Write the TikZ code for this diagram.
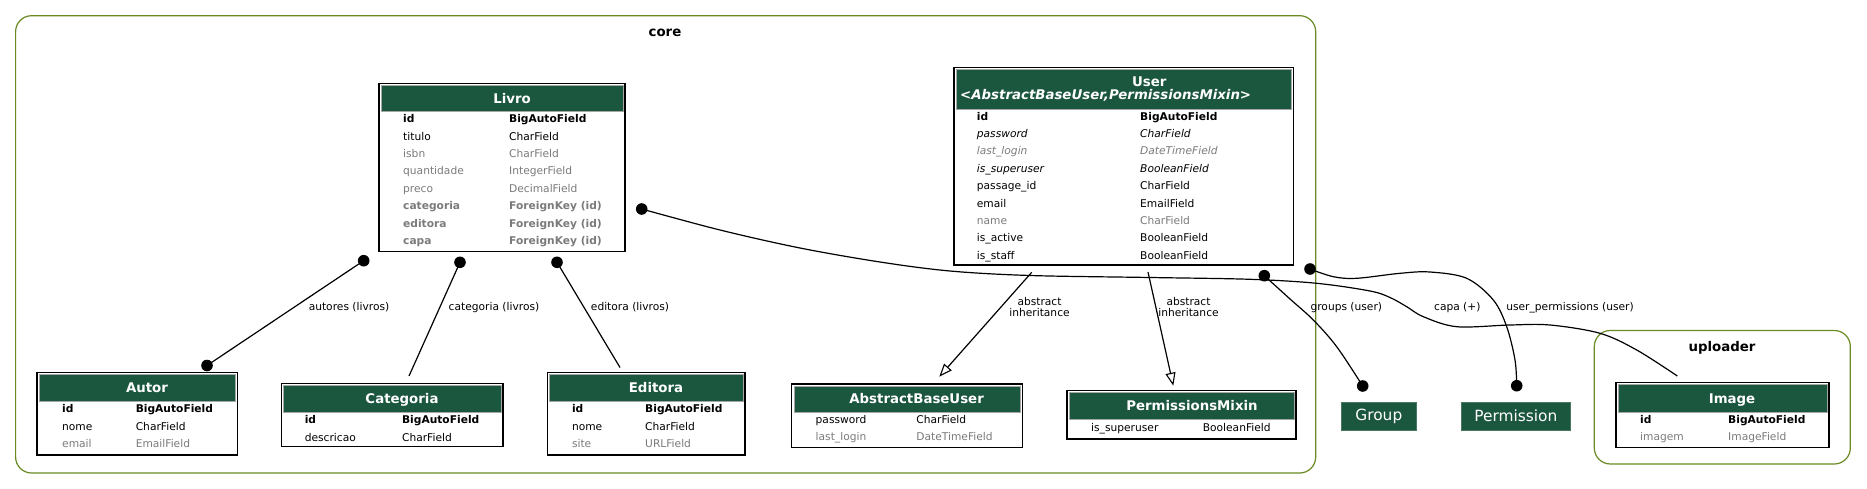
\documentclass[tikz,border=0pt]{standalone}
\usepackage{fontspec}
\setmainfont{DejaVu Sans}
\usetikzlibrary{arrows.meta}
\definecolor{hdr}{HTML}{1B563F}
\definecolor{olivec}{HTML}{698B22}
\definecolor{fgrey}{HTML}{7B7B7B}
\newcommand\mktable[5]{\node[tbl, minimum width={#4-#2}, minimum height={#5-#3}] (#1) at (#2,#3) {};}
\newcommand\mkhead[5]{\node[hdrfill, minimum width={#4-#2}, minimum height={#5-#3}] (#1) at (#2,#3) {};}
\newcommand\mkrow[7]{\node[#5] (#1a) at (#2,#4+4.3) {#6};\node[#5] (#1b) at (#3,#4+4.3) {#7};}
\newcommand\mktitle[4]{\node[ttl] (#1) at (#2,#3+4.9) {#4};}
\begin{document}
\begin{tikzpicture}[x=1pt,y=-1pt,
  cluster/.style={draw=olivec, line width=1.2pt, rounded corners=16pt, anchor=north west, inner sep=0pt, outer sep=0pt},
  cltitle/.style={anchor=base, inner sep=0pt, font=\fontsize{13.33}{16}\selectfont\bfseries},
  tbl/.style={draw=black, line width=1.1pt, fill=white, anchor=north west, inner sep=0pt, outer sep=0pt},
  hdrfill/.style={fill=hdr, draw=black!35, line width=0.5pt, anchor=north west, inner sep=0pt, outer sep=0pt},
  ttl/.style={anchor=base, inner sep=0pt, text=white, font=\fontsize{13.33}{16}\selectfont\bfseries},
  rt/.style={anchor=base west, inner sep=0pt, font=\fontsize{10.67}{12.8}\selectfont},
  rb/.style={rt, font=\fontsize{10.67}{12.8}\selectfont\bfseries},
  ri/.style={rt, font=\fontsize{10.67}{12.8}\selectfont\itshape},
  fg/.style={text=fgrey},
  ext/.style={fill=hdr, draw=hdr!80!white, line width=0.6pt, anchor=north west, inner sep=0pt, text=white, font=\fontsize{15.4}{18}\selectfont},
  edge/.style={draw=black, line width=1.2pt},
  elab/.style={inner sep=0pt, align=center, font=\fontsize{10.67}{11.7}\selectfont},
  inh/.style={edge, -{Triangle[open, length=13pt, width=10pt, line width=1.1pt]}},
  enddot/.style={fill=black}
]
\useasboundingbox (0,0) rectangle (1867,489);
\fill[white] (0,0) rectangle (1867,489);

% clusters
\node[cluster, minimum width=1300.1, minimum height=457.3] (core) at (15.6,15.7) {};
\node[cltitle] (coreT) at (665,37) {core};
\node[cluster, minimum width=256, minimum height=133.5] (upl) at (1594.3,330.5) {};
\node[cltitle] (uplT) at (1722,351) {uploader};

% Livro
\mktable{livro}{379}{83.5}{625}{251.7}
\mkhead{livroH}{381}{85.5}{623}{111.5}
\mktitle{livroT}{512}{98.5}{Livro}
\mkrow{lv1}{403}{509}{118.5}{rb}{id}{BigAutoField}
\mkrow{lv2}{403}{509}{135.9}{rt}{titulo}{CharField}
\mkrow{lv3}{403}{509}{153.2}{rt,fg}{isbn}{CharField}
\mkrow{lv4}{403}{509}{170.6}{rt,fg}{quantidade}{IntegerField}
\mkrow{lv5}{403}{509}{188.0}{rt,fg}{preco}{DecimalField}
\mkrow{lv6}{403}{509}{205.4}{rb,fg}{categoria}{ForeignKey (id)}
\mkrow{lv7}{403}{509}{222.7}{rb,fg}{editora}{ForeignKey (id)}
\mkrow{lv8}{403}{509}{240.1}{rb,fg}{capa}{ForeignKey (id)}

% User
\mktable{user}{954}{67.3}{1293.3}{265}
\mkhead{userH}{956}{69.3}{1291.3}{109.5}
\mktitle{userT}{1149.3}{81.7}{User}
\node[ttl, anchor=base west, font=\fontsize{13.33}{16}\selectfont\bfseries\itshape] (userT2) at (960,99.2) {<AbstractBaseUser,PermissionsMixin>};
\mkrow{us1}{976.7}{1140}{116}{rb}{id}{BigAutoField}
\mkrow{us2}{976.7}{1140}{133.35}{ri}{password}{CharField}
\mkrow{us3}{976.7}{1140}{150.7}{ri,fg}{last\_login}{DateTimeField}
\mkrow{us4}{976.7}{1140}{168.05}{ri}{is\_superuser}{BooleanField}
\mkrow{us5}{976.7}{1140}{185.4}{rt}{passage\_id}{CharField}
\mkrow{us6}{976.7}{1140}{202.75}{rt}{email}{EmailField}
\mkrow{us7}{976.7}{1140}{220.1}{rt,fg}{name}{CharField}
\mkrow{us8}{976.7}{1140}{237.45}{rt}{is\_active}{BooleanField}
\mkrow{us9}{976.7}{1140}{254.8}{rt}{is\_staff}{BooleanField}

% Autor
\mktable{autor}{37}{372.5}{237.5}{455}
\mkhead{autorH}{39}{374.5}{235.5}{401.5}
\mktitle{autorT}{147}{388}{Autor}
\mkrow{au1}{62}{135.6}{408.3}{rb}{id}{BigAutoField}
\mkrow{au2}{62}{135.6}{425.7}{rt}{nome}{CharField}
\mkrow{au3}{62}{135.6}{443.1}{rt,fg}{email}{EmailField}

% Categoria
\mktable{categ}{281.6}{383.3}{503}{446.7}
\mkhead{categH}{283.6}{385.3}{501}{412}
\mktitle{categT}{402}{398.6}{Categoria}
\mkrow{ca1}{304.6}{401.9}{419.3}{rb}{id}{BigAutoField}
\mkrow{ca2}{304.6}{401.9}{436.7}{rt}{descricao}{CharField}

% Editora
\mktable{edit}{547.4}{372.5}{745}{455}
\mkhead{editH}{549.4}{374.5}{743}{401.5}
\mktitle{editT}{656}{388}{Editora}
\mkrow{ed1}{571.8}{645}{408.3}{rb}{id}{BigAutoField}
\mkrow{ed2}{571.8}{645}{425.7}{rt}{nome}{CharField}
\mkrow{ed3}{571.8}{645}{443.1}{rt,fg}{site}{URLField}

% AbstractBaseUser
\mktable{abu}{791.8}{384}{1022.4}{447.7}
\mkhead{abuH}{793.8}{386}{1020.4}{412}
\mktitle{abuT}{916.6}{399}{AbstractBaseUser}
\mkrow{ab1}{815.5}{916.2}{419}{rt}{password}{CharField}
\mkrow{ab2}{815.5}{916.2}{436.4}{rt,fg}{last\_login}{DateTimeField}

% PermissionsMixin
\mktable{pmx}{1067}{390.5}{1296}{439}
\mkhead{pmxH}{1069}{392.5}{1294}{419.5}
\mktitle{pmxT}{1192}{406}{PermissionsMixin}
\mkrow{pm1}{1091}{1202.6}{427.3}{rt}{is\_superuser}{BooleanField}

% Image
\mktable{image}{1616}{382.3}{1829}{447.7}
\mkhead{imageH}{1618}{384.3}{1827}{412}
\mktitle{imageT}{1732}{398.5}{Image}
\mkrow{im1}{1640}{1728}{419}{rb}{id}{BigAutoField}
\mkrow{im2}{1640}{1728}{436.4}{rt,fg}{imagem}{ImageField}

% external models
\node[ext, minimum width=75, minimum height=27.5] (group) at (1341,402) {Group};
\node[ext, minimum width=109, minimum height=27.5] (perm) at (1461,402) {Permission};

% edge end points
\coordinate (eAu1) at (363.7,260.7); \coordinate (eAu2) at (207,365.5);
\coordinate (eCa1) at (460,262.3);   \coordinate (eCa2) at (409,376);
\coordinate (eEd1) at (557,262.3);   \coordinate (eEd2) at (620,367.5);
\coordinate (eCp1) at (641.7,209);   \coordinate (eCp2) at (1677.3,376);
\coordinate (eAb1) at (1031.7,272.3);\coordinate (eAb2) at (939.3,376.7);
\coordinate (ePm1) at (1148,272);    \coordinate (ePm2) at (1173.3,385.7);
\coordinate (eGr1) at (1264.3,275.7);\coordinate (eGr2) at (1362.7,386);
\coordinate (eUp1) at (1310,269);    \coordinate (eUp2) at (1516.7,385.7);

% edges
\draw[edge] (eAu1) -- (eAu2);
\draw[edge] (eCa1) -- (eCa2);
\draw[edge] (eEd1) -- (eEd2);
\draw[edge] plot[smooth, tension=0.55] coordinates {(eCp1) (720,230) (800,248) (880,262) (950,271) (1030,275.5) (1150,277.5) (1250,279.3) (1316.7,283.3) (1370,291) (1390,297.5) (1406.7,306.7) (1423.3,316.7) (1456.7,326.7) (1510,325) (1550,325) (1600,333.3) (1636.7,350) (eCp2)};
\draw[inh] (eAb1) -- (eAb2);
\draw[inh] (ePm1) -- (ePm2);
\draw[edge] plot[smooth, tension=0.55] coordinates {(eGr1) (1290,299) (1313.3,320) (1336.7,346.7) (eGr2)};
\draw[edge] plot[smooth, tension=0.55] coordinates {(eUp1) (1333.3,276.7) (1356.7,278.3) (1400,273.3) (1430,272) (1466.7,278.3) (1493.3,300) (1506.7,326.7) (1515,360) (eUp2)};

% end dots
\foreach \p in {eAu1,eAu2,eCa1,eEd1,eCp1,eGr1,eGr2,eUp1,eUp2}{\fill[enddot] (\p) circle[radius=5.8];}

% labels
\node[elab] (lAu) at (349,307) {autores (livros)};
\node[elab] (lCa) at (494,307.3) {categoria (livros)};
\node[elab] (lEd) at (630,307) {editora (livros)};
\node[elab] (lCp) at (1457.3,307.3) {capa (+)};
\node[elab] (lAb) at (1039.5,307) {abstract\\inheritance};
\node[elab] (lPm) at (1188.5,307) {abstract\\inheritance};
\node[elab] (lGr) at (1346.3,307.3) {groups (user)};
\node[elab] (lUp) at (1570,307.3) {user\_permissions (user)};
\end{tikzpicture}
\end{document}
